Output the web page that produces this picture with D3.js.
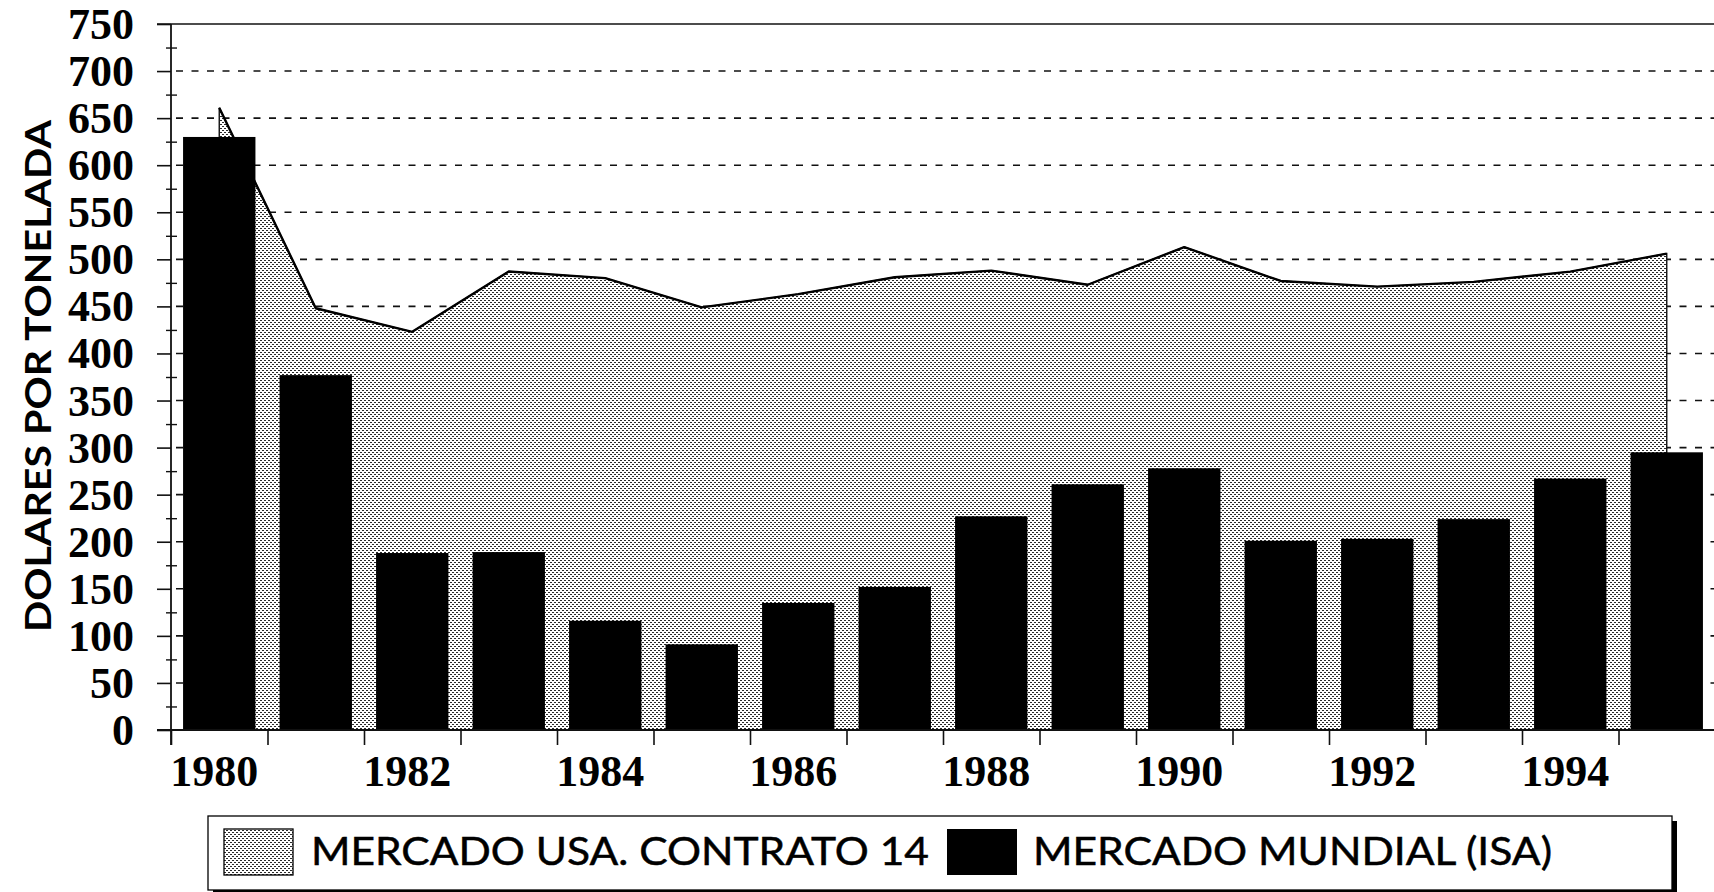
<!DOCTYPE html>
<html>
<head>
<meta charset="utf-8">
<script src="https://cdn.jsdelivr.net/npm/d3@7"></script>
<style>
  html, body { margin: 0; padding: 0; background: #fff; }
  svg { display: block; }
</style>
</head>
<body>
<svg id="chart" width="1714" height="892"></svg>
<script>
// Categories: one bar / one area point per year
const years = [1980, 1981, 1982, 1983, 1984, 1985, 1986, 1987,
               1988, 1989, 1990, 1991, 1992, 1993, 1994, 1995];

// US market price, contract no. 14 (USD per tonne)
const mercadoUSA = [661, 448, 423, 487, 480, 449, 463, 481,
                    488, 473, 513, 477, 471, 476, 487, 506];

// World market price, ISA (USD per tonne)
const mercadoMundial = [630, 377, 188, 189, 116, 91, 135, 152,
                        227, 261, 278, 201, 203, 224, 267, 295];

// Axis ticks and labels
const yTickValues = [0, 50, 100, 150, 200, 250, 300, 350, 400,
                     450, 500, 550, 600, 650, 700, 750];
const yMinorTicks = [25, 75, 125, 175, 225, 275, 325, 375, 425,
                     475, 525, 575, 625, 675, 725];
const yGridValues = [50, 100, 150, 200, 250, 300, 350, 400, 450,
                     500, 550, 600, 650, 700];
const xLabelYears = [1980, 1982, 1984, 1986, 1988, 1990, 1992, 1994];

const legendLabels = ["MERCADO USA. CONTRATO 14", "MERCADO MUNDIAL (ISA)"];
const yTitle = "DOLARES POR TONELADA";

const W = 1714, H = 892;
const svg = d3.select("#chart");

const x = d3.scaleBand()
  .domain(years)
  .range([171, 1715])
  .paddingInner(0.25)
  .paddingOuter(0.125);

// boundaries between yearly categories (for the tick marks)
const xEdge = d3.scaleLinear()
  .domain([years[0], years[years.length - 1] + 1])
  .range([171, 1715]);

const y = d3.scaleLinear().domain([0, 750]).range([730, 24]);

// stipple fill
const defs = svg.append("defs");
const pat = defs.append("pattern")
  .attr("id", "stipple")
  .attr("patternUnits", "userSpaceOnUse")
  .attr("width", 4).attr("height", 4);
pat.append("rect").attr("width", 4).attr("height", 4).attr("fill", "#fff");
pat.append("rect").attr("x", 0).attr("y", 0).attr("width", 2).attr("height", 1).attr("fill", "#2a2a2a");
pat.append("rect").attr("x", 2).attr("y", 2).attr("width", 2).attr("height", 1).attr("fill", "#2a2a2a");

svg.append("rect").attr("width", W).attr("height", H).attr("fill", "#fff");

// dashed horizontal gridlines
svg.append("g")
  .selectAll("line")
  .data(yGridValues)
  .join("line")
  .attr("x1", 176).attr("x2", W)
  .attr("y1", d => y(d)).attr("y2", d => y(d))
  .attr("stroke", "#111")
  .attr("stroke-width", 1.6)
  .attr("stroke-dasharray", "7,8.5");

// solid top rule at 750
svg.append("line")
  .attr("x1", 157).attr("x2", W)
  .attr("y1", y(750)).attr("y2", y(750))
  .attr("stroke", "#111").attr("stroke-width", 1.6);

const usaData = years.map((yr, i) => ({ year: yr, v: mercadoUSA[i] }));
const mundialData = years.map((yr, i) => ({ year: yr, v: mercadoMundial[i] }));
const cx = d => x(d.year) + x.bandwidth() / 2;

// area for the US market
const area = d3.area().x(cx).y0(y(0)).y1(d => y(d.v));
svg.append("path")
  .datum(usaData)
  .attr("d", area)
  .attr("fill", "url(#stipple)")
  .attr("stroke", "#111")
  .attr("stroke-width", 1.4);

const line = d3.line().x(cx).y(d => y(d.v));
svg.append("path")
  .datum(usaData)
  .attr("d", line)
  .attr("fill", "none")
  .attr("stroke", "#000")
  .attr("stroke-width", 2.4)
  .attr("stroke-linejoin", "round");

// world market bars
svg.append("g")
  .selectAll("rect")
  .data(mundialData)
  .join("rect")
  .attr("x", d => x(d.year))
  .attr("width", x.bandwidth())
  .attr("y", d => y(d.v))
  .attr("height", d => y(0) - y(d.v))
  .attr("fill", "#000");

// y axis: major ticks with labels
const yAxis = svg.append("g")
  .attr("transform", "translate(171,0)")
  .call(d3.axisLeft(y).tickValues(yTickValues).tickSize(14).tickPadding(23));
yAxis.select(".domain").remove();
yAxis.selectAll(".tick line").attr("stroke", "#111").attr("stroke-width", 1.6);
yAxis.selectAll(".tick text")
  .attr("font-family", "'Liberation Serif', 'Times New Roman', serif")
  .attr("font-weight", "bold")
  .attr("font-size", 44)
  .attr("fill", "#000")
  .attr("dy", "0.33em");

// y axis: minor ticks crossing the axis line
const yMinor = svg.append("g")
  .attr("transform", "translate(177,0)")
  .call(d3.axisLeft(y).tickValues(yMinorTicks).tickSize(11).tickFormat(""));
yMinor.select(".domain").remove();
yMinor.selectAll(".tick line").attr("stroke", "#111").attr("stroke-width", 1.4);

// y axis line
svg.append("line")
  .attr("x1", 171).attr("x2", 171)
  .attr("y1", y(750)).attr("y2", 745)
  .attr("stroke", "#111").attr("stroke-width", 1.8);

// x axis line
svg.append("line")
  .attr("x1", 157).attr("x2", W)
  .attr("y1", y(0)).attr("y2", y(0))
  .attr("stroke", "#111").attr("stroke-width", 2);

// x axis: ticks at category boundaries
const xTicks = svg.append("g")
  .attr("transform", `translate(0,${y(0)})`)
  .call(d3.axisBottom(xEdge).tickValues(years).tickSize(15).tickFormat(""));
xTicks.select(".domain").remove();
xTicks.selectAll(".tick line").attr("stroke", "#111").attr("stroke-width", 1.6);

// x axis: year labels under every other bar
const xLabels = svg.append("g")
  .attr("transform", `translate(-5,${y(0)})`)
  .call(d3.axisBottom(x).tickValues(xLabelYears).tickSize(0).tickPadding(0));
xLabels.select(".domain").remove();
xLabels.selectAll(".tick text")
  .attr("font-family", "'Liberation Serif', 'Times New Roman', serif")
  .attr("font-weight", "bold")
  .attr("font-size", 44)
  .attr("fill", "#000")
  .attr("y", 56)
  .attr("dy", 0);

// y axis title
svg.append("text")
  .attr("transform", "translate(51,376) rotate(-90)")
  .attr("text-anchor", "middle")
  .attr("font-family", "Lato, 'Open Sans', sans-serif")
  .attr("font-weight", "bold")
  .attr("font-size", 37)
  .attr("textLength", 512)
  .attr("lengthAdjust", "spacingAndGlyphs")
  .attr("fill", "#000")
  .text(yTitle);

// legend
const lg = svg.append("g");
lg.append("rect")
  .attr("x", 213).attr("y", 821).attr("width", 1464).attr("height", 74)
  .attr("fill", "#000");
lg.append("rect")
  .attr("x", 208).attr("y", 816).attr("width", 1464).attr("height", 74)
  .attr("fill", "#fff").attr("stroke", "#000").attr("stroke-width", 1.3);

lg.append("rect")
  .attr("x", 224).attr("y", 829).attr("width", 69).attr("height", 46)
  .attr("fill", "url(#stipple)").attr("stroke", "#000").attr("stroke-width", 1.3);
lg.append("text")
  .attr("x", 311).attr("y", 865)
  .attr("font-family", "Lato, 'Open Sans', sans-serif")
  .attr("font-size", 39)
  .attr("textLength", 618)
  .attr("lengthAdjust", "spacingAndGlyphs")
  .attr("fill", "#000")
  .attr("stroke", "#000")
  .attr("stroke-width", 0.5)
  .text(legendLabels[0]);

lg.append("rect")
  .attr("x", 947).attr("y", 829).attr("width", 70).attr("height", 46)
  .attr("fill", "#000");
lg.append("text")
  .attr("x", 1033).attr("y", 865)
  .attr("font-family", "Lato, 'Open Sans', sans-serif")
  .attr("font-size", 39)
  .attr("textLength", 519)
  .attr("lengthAdjust", "spacingAndGlyphs")
  .attr("fill", "#000")
  .attr("stroke", "#000")
  .attr("stroke-width", 0.5)
  .text(legendLabels[1]);
</script>
</body>
</html>
